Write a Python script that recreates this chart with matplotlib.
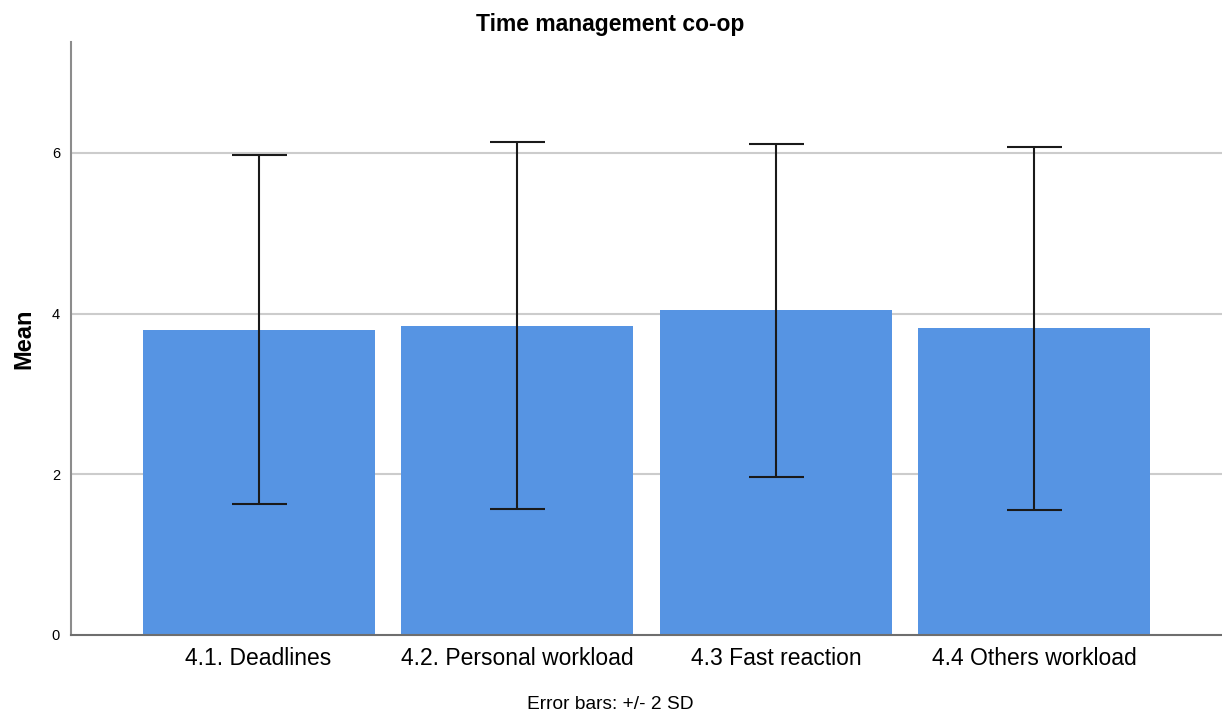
import matplotlib
matplotlib.use("Agg")
import matplotlib.pyplot as plt
import numpy as np

categories = ["4.1. Deadlines", "4.2. Personal workload", "4.3 Fast reaction", "4.4 Others workload"]
means = [3.80, 3.85, 4.04, 3.82]
sds = [1.085, 1.14, 1.035, 1.13]
yticks = [0, 2, 4, 6]

plt.rcParams['font.family'] = ['Liberation Sans', 'DejaVu Sans']

fig = plt.figure(figsize=(12.22, 7.13), dpi=100)
ax = fig.add_axes([0.0581, 0.1094, 0.9419, 0.8316])

x = np.arange(len(categories))
err = [2 * s for s in sds]
ax.bar(x, means, width=0.897, color='#5694E3', zorder=2)
ax.errorbar(x, means, yerr=err, fmt='none', ecolor='#1a1a1a', elinewidth=1.5,
            capsize=19.8, capthick=1.5, zorder=3)

ax.set_xlim(-0.725, 3.725)
ax.set_ylim(0, 7.38)
ax.set_yticks(yticks)
ax.set_yticklabels([str(t) for t in yticks], fontsize=10.5)
ax.set_xticks(x)
ax.set_xticklabels(categories, fontsize=16.5)
ax.tick_params(axis='both', length=0)
ax.tick_params(axis='x', pad=9)
ax.tick_params(axis='y', pad=8)

for t in [2, 4, 6]:
    ax.axhline(t, color='#cccccc', linewidth=1.5, zorder=1)

for s in ['top', 'right']:
    ax.spines[s].set_visible(False)
ax.spines['left'].set_color('#8c8c8c')
ax.spines['left'].set_linewidth(1.5)
ax.spines['bottom'].set_color('#6e6e6e')
ax.spines['bottom'].set_linewidth(1.5)

ax.set_ylabel("Mean", fontsize=17, fontweight='bold', labelpad=12)
fig.text(0.4995, 0.966, "Time management co-op", ha='center', va='center', fontsize=16.5, fontweight='bold')
fig.text(0.4995, 0.0125, "Error bars: +/- 2 SD", ha='center', va='center', fontsize=13.8)

fig.savefig("out.png", dpi=100)
